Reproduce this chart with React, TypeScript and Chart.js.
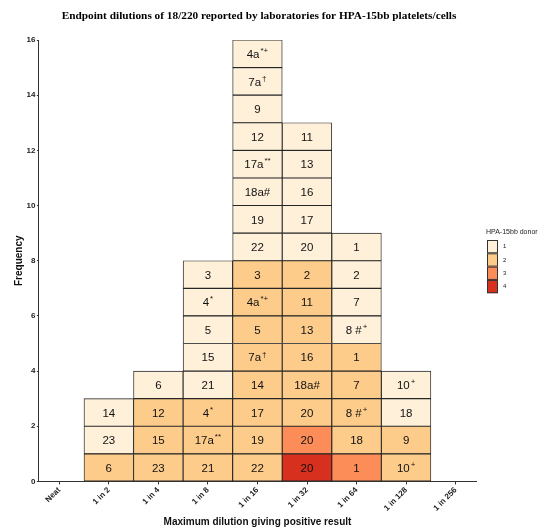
import React, { useEffect, useRef } from "react";
import { Chart, registerables } from "chart.js";

Chart.register(...registerables);

const categories = ["Neat", "1 in 2", "1 in 4", "1 in 8", "1 in 16", "1 in 32", "1 in 64", "1 in 128", "1 in 256"];

// Cell labels per column, from bottom to top ("^" marks start of superscript)
const neatLabels: string[] = [];
const in2Labels = ["6", "23", "14"];
const in4Labels = ["23", "15", "12", "6"];
const in8Labels = ["21", "17a^**", "4^*", "21", "15", "5", "4^*", "3"];
const in16Labels = ["22", "19", "17", "14", "7a^†", "5", "4a^*+", "3", "22", "19", "18a#", "17a^**", "12", "9", "7a^†", "4a^*+"];
const in32Labels = ["20", "20", "20", "18a#", "16", "13", "11", "2", "20", "17", "16", "13", "11"];
const in64Labels = ["1", "18", "8 #^+", "7", "1", "8 #^+", "7", "2", "1"];
const in128Labels = ["10^+", "9", "18", "10^+"];
const in256Labels: string[] = [];

// HPA-15bb donor per cell, same order
const neatDonors: number[] = [];
const in2Donors = [2, 1, 1];
const in4Donors = [2, 2, 2, 1];
const in8Donors = [2, 2, 2, 1, 1, 1, 1, 1];
const in16Donors = [2, 2, 2, 2, 2, 2, 2, 2, 1, 1, 1, 1, 1, 1, 1, 1];
const in32Donors = [4, 3, 2, 2, 2, 2, 2, 2, 1, 1, 1, 1, 1];
const in64Donors = [3, 2, 2, 2, 2, 1, 1, 1, 1];
const in128Donors = [2, 2, 1, 1];
const in256Donors: number[] = [];

const donorLevels = ["1", "2", "3", "4"];
const donorColors = ["#fef0d9", "#fdcc8a", "#fc8d59", "#d7301f"];

const chartTitle = "Endpoint dilutions of 18/220 reported by laboratories for HPA-15bb platelets/cells";

const columnLabels = [neatLabels, in2Labels, in4Labels, in8Labels, in16Labels, in32Labels, in64Labels, in128Labels, in256Labels];
const columnDonors = [neatDonors, in2Donors, in4Donors, in8Donors, in16Donors, in32Donors, in64Donors, in128Donors, in256Donors];

const yTicks = [0, 2, 4, 6, 8, 10, 12, 14, 16];

const maxLevel = Math.max(...columnLabels.map((c) => c.length));

const cellPlugin = {
  id: "cellLabels",
  afterDatasetsDraw(chart: any) {
    const ctx = chart.ctx;
    ctx.save();
    chart.data.datasets.forEach((ds: any, di: number) => {
      const meta = chart.getDatasetMeta(di);
      meta.data.forEach((el: any, pi: number) => {
        const raw = ds.data[pi];
        const label: string = columnLabels[raw.x][di];
        if (!label) return;
        const cx = el.x;
        const cy = (el.y + el.base) / 2;
        const parts = label.split("^");
        const base = parts[0];
        const sup = parts[1] || "";
        ctx.font = '11.5px "Liberation Sans", Arial, sans-serif';
        const bw = ctx.measureText(base).width;
        ctx.font = '8px "Liberation Sans", Arial, sans-serif';
        const sw = sup ? ctx.measureText(sup).width + 1 : 0;
        const start = cx - (bw + sw) / 2;
        ctx.fillStyle = "#111";
        ctx.textBaseline = "middle";
        ctx.textAlign = "left";
        ctx.font = '11.5px "Liberation Sans", Arial, sans-serif';
        ctx.fillText(base, start, cy + 1);
        if (sup) {
          ctx.font = '8px "Liberation Sans", Arial, sans-serif';
          ctx.fillText(sup, start + bw + 1, cy - 3);
        }
      });
    });
    ctx.restore();
  },
};

const decorPlugin = {
  id: "decor",
  afterDraw(chart: any) {
    const ctx = chart.ctx;
    const area = chart.chartArea;
    ctx.save();
    // title
    ctx.font = 'bold 11.3px "Liberation Serif", "Times New Roman", serif';
    ctx.fillStyle = "#000";
    ctx.textAlign = "center";
    ctx.textBaseline = "middle";
    ctx.fillText(chartTitle, 259, 16);
    // legend
    const x0 = area.right + 11;
    const y0 = 240;
    const h = 13.3;
    const w = 11;
    ctx.font = '7px "Liberation Sans", Arial, sans-serif';
    ctx.fillStyle = "#222";
    ctx.textAlign = "left";
    ctx.fillText("HPA-15bb donor", x0 - 1, y0 - 8);
    donorLevels.forEach((lv, i) => {
      ctx.fillStyle = donorColors[i];
      ctx.fillRect(x0, y0 + i * h, w, h);
      ctx.strokeStyle = "#333";
      ctx.lineWidth = 1;
      ctx.strokeRect(x0 + 0.5, y0 + i * h + 0.5, w - 1, h - 1);
      ctx.fillStyle = "#222";
      ctx.font = '6px "Liberation Sans", Arial, sans-serif';
      ctx.fillText(lv, x0 + w + 5, y0 + i * h + h / 2);
    });
    ctx.restore();
  },
};

export default function App() {
  const ref = useRef<HTMLCanvasElement>(null);
  useEffect(() => {
    if (!ref.current) return;
    const datasets = [];
    for (let lvl = 0; lvl < maxLevel; lvl++) {
      const data: any[] = [];
      columnLabels.forEach((col, ci) => {
        if (col.length > lvl) data.push({ x: ci, y: 1 });
      });
      datasets.push({
        label: "level " + (lvl + 1),
        data,
        backgroundColor: (c: any) => {
          const r = c.raw;
          if (!r) return donorColors[0];
          return donorColors[columnDonors[r.x][lvl] - 1];
        },
        borderColor: "#262626",
        borderWidth: 0.9,
        borderSkipped: false,
        barPercentage: 1,
        categoryPercentage: 1,
      });
    }
    const chart = new Chart(ref.current, {
      type: "bar",
      data: { datasets },
      plugins: [cellPlugin, decorPlugin],
      options: {
        animation: false,
        responsive: false,
        layout: { padding: { left: 13, right: 64, top: 40, bottom: 3 } },
        plugins: {
          legend: { display: false },
          tooltip: { enabled: false },
          title: { display: false },
        },
        scales: {
          x: {
            type: "linear",
            stacked: true,
            offset: false,
            min: -0.41,
            max: 8.41,
            afterBuildTicks: (axis: any) => {
              axis.ticks = categories.map((_, i) => ({ value: i }));
            },
            ticks: {
              autoSkip: false,
              maxRotation: 45,
              minRotation: 45,
              padding: 1,
              color: "#222",
              font: { family: '"Liberation Sans", Arial, sans-serif', size: 8, weight: "bold" },
              callback: (v: any) => categories[v] ?? "",
            },
            grid: { offset: false, drawOnChartArea: false, drawTicks: true, tickLength: 3, color: "#333" },
            border: { display: true, color: "#333", width: 1 },
            title: {
              display: true,
              text: "Maximum dilution giving positive result",
              color: "#111",
              font: { family: '"Liberation Sans", Arial, sans-serif', size: 10, weight: "bold" },
              padding: { top: 2, bottom: 0 },
            },
          },
          y: {
            stacked: true,
            min: 0,
            max: 16,
            afterBuildTicks: (axis: any) => {
              axis.ticks = yTicks.map((v) => ({ value: v }));
            },
            ticks: {
              color: "#222",
              padding: 1.5,
              font: { family: '"Liberation Sans", Arial, sans-serif', size: 8, weight: "bold" },
            },
            grid: { drawOnChartArea: false, drawTicks: true, tickLength: 2, color: "#333" },
            border: { display: true, color: "#333", width: 1 },
            title: {
              display: true,
              text: "Frequency",
              color: "#111",
              font: { family: '"Liberation Sans", Arial, sans-serif', size: 10, weight: "bold" },
              padding: { top: 0, bottom: 0 },
            },
          },
        },
      },
    });
    return () => chart.destroy();
  }, []);
  return (
    <div style={{ position: "absolute", left: 0, top: 0, width: 540, height: 531, background: "#fff" }}>
      <canvas ref={ref} width={540} height={531} />
    </div>
  );
}
